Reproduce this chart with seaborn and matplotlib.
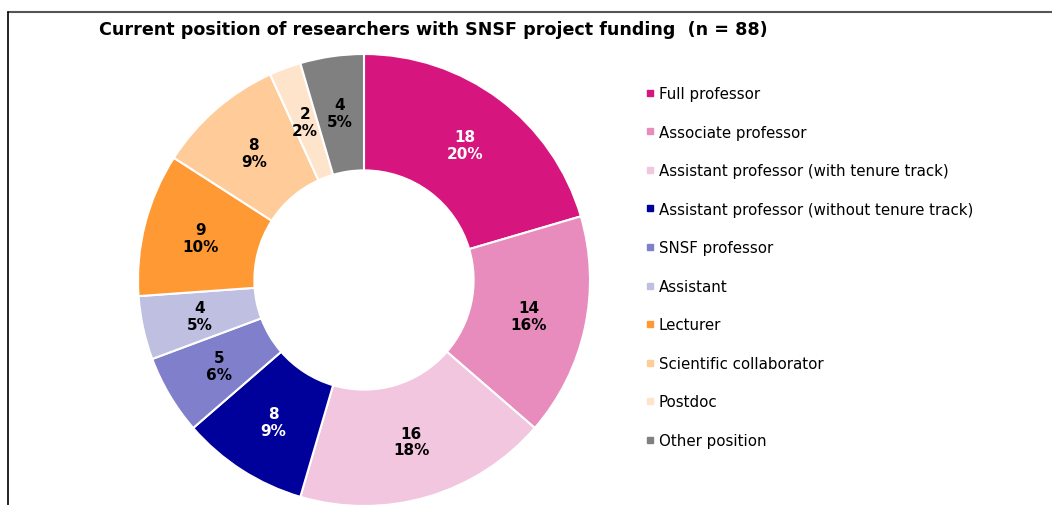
import matplotlib.pyplot as plt
import matplotlib.lines as mlines
import seaborn as sns
import numpy as np

# %% data
positions = ['Full professor', 'Associate professor',
             'Assistant professor (with tenure track)',
             'Assistant professor (without tenure track)',
             'SNSF professor', 'Assistant', 'Lecturer',
             'Scientific collaborator', 'Postdoc', 'Other position']
counts = [18, 14, 16, 8, 5, 4, 9, 8, 2, 4]
colors = ['#D6167E', '#E88BBD', '#F2C6DF', '#00009A', '#7F7FCB',
          '#BFBFE2', '#FF9933', '#FFCC99', '#FFE4CC', '#808080']
label_colors = ['white', 'black', 'black', 'white', 'black',
                'black', 'black', 'black', 'black', 'black']
n_total = sum(counts)

sns.set_style('white')
plt.rcParams['font.family'] = ['DejaVu Sans']
plt.rcParams['text.color'] = 'black'

fig = plt.figure(figsize=(10.52, 5.06), dpi=100)

# frame lines like the excel chart area (top + left)
fig.add_artist(mlines.Line2D([8/1052, 1], [1 - 13/506, 1 - 13/506], color='#555555', lw=1.5))
fig.add_artist(mlines.Line2D([8/1052, 8/1052], [0, 1 - 13/506], color='black', lw=1.2))

ax = fig.add_axes([138/1052, -1/506, 452/1052, 452/506])
wedges, texts = ax.pie(counts, colors=colors, startangle=90, counterclock=False,
                       radius=1.0, wedgeprops=dict(width=0.515, edgecolor='white', linewidth=1.5))
ax.set_xlim(-1, 1)
ax.set_ylim(-1, 1)
ax.set_aspect('equal')
for w in wedges:
    w.set_clip_on(False)

# value + percent labels in the ring
cum = np.cumsum([0] + counts)
for i, c in enumerate(counts):
    mid = 90 - 360 * (cum[i] + c / 2) / n_total
    r = 0.745
    x, y = r * np.cos(np.radians(mid)), r * np.sin(np.radians(mid))
    ax.text(x, y, f'{c}\n{round(c / n_total * 100 + 1e-9):.0f}%', ha='center', va='center',
            fontsize=11, fontweight='bold', color=label_colors[i], linespacing=1.15)

fig.text(433/1052, 1 - 30/506, 'Current position of researchers with SNSF project funding  (n = 88)',
         ha='center', va='center', fontsize=12.6, fontweight='bold')

handles = [mlines.Line2D([], [], marker='s', linestyle='none', markersize=5,
                         markerfacecolor=col, markeredgecolor=col) for col in colors]
fig.legend(handles, positions, loc='upper left', bbox_to_anchor=(646/1052, 1 - 87/506),
           frameon=False, fontsize=10.8, labelspacing=1.57, handlelength=0.5,
           handletextpad=0.35, borderpad=0, borderaxespad=0, labelcolor='black')

plt.savefig('out.png', dpi=100)
